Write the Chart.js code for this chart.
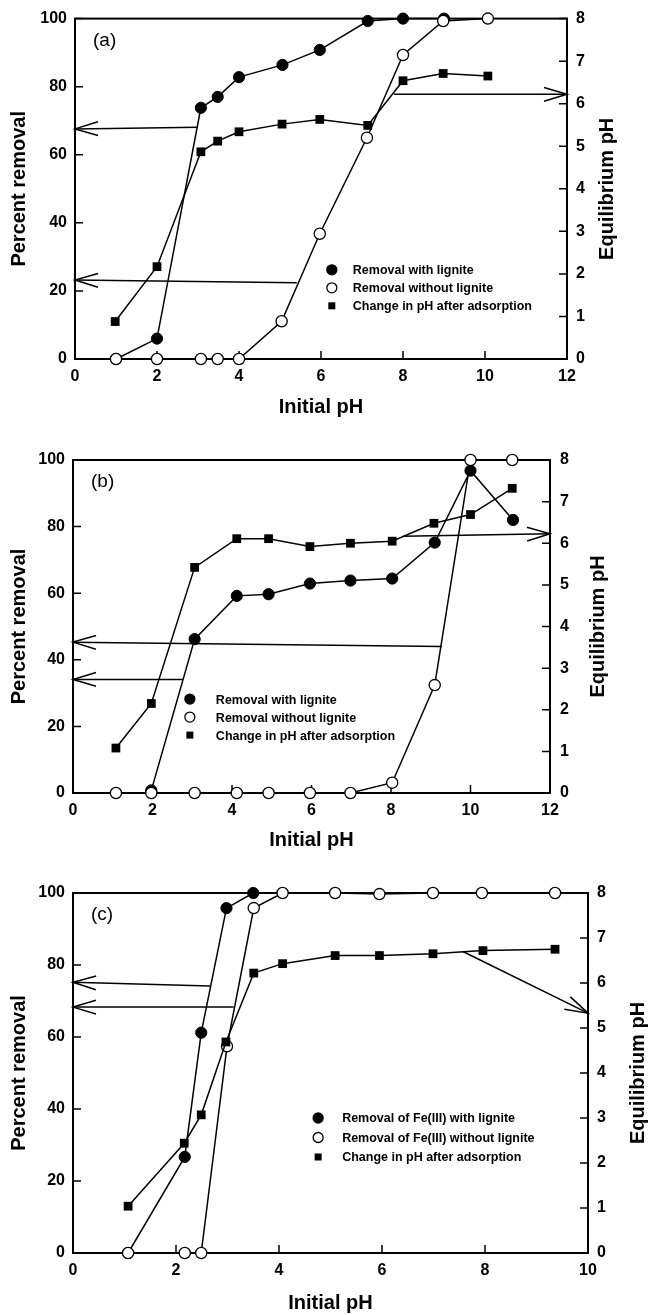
<!DOCTYPE html>
<html>
<head>
<meta charset="utf-8">
<script src="https://cdn.jsdelivr.net/npm/chart.js@4.4.1/dist/chart.umd.min.js"></script>
<style>
  html, body { margin: 0; padding: 0; background: #fff; }
  body { width: 648px; height: 1315px; position: relative; overflow: hidden; }
  .panel { position: absolute; left: 0; width: 648px; }
</style>
</head>
<body>
<div class="panel" style="top:0;height:420px"><canvas id="chartA"></canvas></div>
<div class="panel" style="top:440px;height:420px"><canvas id="chartB"></canvas></div>
<div class="panel" style="top:870px;height:445px"><canvas id="chartC"></canvas></div>
<script>
// ---- panel (a) ----
const phA_with = [1, 2, 3.07, 3.48, 4.0, 5.06, 5.97, 7.14, 8.0, 9.0];
const remA_with = [0, 6, 73.8, 77, 82.8, 86.4, 90.8, 99.3, 100, 100];
const phA_without = [1, 2, 3.07, 3.48, 4.0, 5.04, 5.97, 7.12, 8.0, 8.98, 10.07];
const remA_without = [0, 0, 0, 0, 0, 11.1, 36.8, 65, 89.3, 99.3, 100];
const phA_init = [0.98, 2.0, 3.07, 3.48, 4.0, 5.05, 5.97, 7.14, 8.0, 8.98, 10.07];
const phA_eq = [0.88, 2.17, 4.87, 5.12, 5.34, 5.52, 5.63, 5.49, 6.54, 6.71, 6.65];
const arrowsA = [
  { axis: 'y', x: [3.0, 0], y: [68.1, 67.6] },
  { axis: 'y', x: [5.41, 0], y: [22.4, 23.2] },
  { axis: 'y1', x: [7.78, 12], y: [6.22, 6.22] }
];

// ---- panel (b) ----
const phB_with = [1.97, 3.06, 4.12, 4.92, 5.96, 6.98, 8.03, 9.1, 10.0, 11.07];
const remB_with = [0.8, 46.2, 59.2, 59.7, 62.9, 63.8, 64.4, 75.2, 96.8, 82];
const phB_without = [1.08, 1.97, 3.06, 4.12, 4.92, 5.96, 6.98, 8.03, 9.1, 10.0, 11.05];
const remB_without = [0, 0, 0, 0, 0, 0, 0, 3.1, 32.4, 100, 100];
const phB_init = [1.08, 1.97, 3.06, 4.12, 4.92, 5.96, 6.98, 8.03, 9.08, 10.0, 11.05];
const phB_eq = [1.08, 2.15, 5.42, 6.11, 6.11, 5.92, 6.0, 6.05, 6.48, 6.69, 7.32];
const arrowsB = [
  { axis: 'y', x: [9.28, 0], y: [44.0, 45.3] },
  { axis: 'y', x: [2.76, 0], y: [34.1, 34.1] },
  { axis: 'y1', x: [8.3, 12], y: [6.17, 6.23] }
];

// ---- panel (c) ----
const phC_with = [1.07, 2.17, 2.49, 2.98, 3.5];
const remC_with = [0, 26.7, 61.2, 95.8, 100];
const phC_without = [1.07, 2.17, 2.49, 2.99, 3.51, 4.07, 5.09, 5.95, 6.99, 7.94, 9.36];
const remC_without = [0, 0, 0, 57.4, 95.8, 100, 100, 99.7, 100, 100, 100];
const phC_init = [1.07, 2.16, 2.49, 2.97, 3.51, 4.07, 5.09, 5.95, 6.99, 7.96, 9.36];
const phC_eq = [1.04, 2.44, 3.07, 4.69, 6.22, 6.43, 6.61, 6.61, 6.65, 6.72, 6.75];
const arrowsC = [
  { axis: 'y', x: [2.66, 0], y: [74.2, 75.2] },
  { axis: 'y', x: [3.12, 0], y: [68.3, 68.3] },
  { axis: 'y1', x: [7.57, 10], y: [6.7, 5.33] }
];

const legendAB = ['Removal with lignite', 'Removal without lignite', 'Change in pH after adsorption'];
const legendC = ['Removal of Fe(III) with lignite', 'Removal of Fe(III) without lignite', 'Change in pH after adsorption'];

const FONT = "'Liberation Sans', Arial, sans-serif";
Chart.defaults.font.family = FONT;
Chart.defaults.color = '#000';

function pts(xs, ys) {
  return xs.map((x, i) => ({ x: x, y: ys[i] }));
}

// frame + inward tick marks
const frameTicks = {
  id: 'frameTicks',
  beforeDatasetsDraw(chart) {
    const { ctx, chartArea: a, scales } = chart;
    ctx.save();
    ctx.strokeStyle = '#000';
    ctx.lineWidth = 2;
    ctx.strokeRect(a.left, a.top, a.right - a.left, a.bottom - a.top);
    ctx.lineWidth = 1.5;
    ctx.beginPath();
    scales.x.ticks.forEach(t => {
      const p = scales.x.getPixelForValue(t.value);
      ctx.moveTo(p, a.bottom); ctx.lineTo(p, a.bottom - 8);
    });
    scales.y.ticks.forEach(t => {
      const p = scales.y.getPixelForValue(t.value);
      ctx.moveTo(a.left, p); ctx.lineTo(a.left + 8, p);
    });
    scales.y1.ticks.forEach(t => {
      const p = scales.y1.getPixelForValue(t.value);
      ctx.moveTo(a.right, p); ctx.lineTo(a.right - 8, p);
    });
    ctx.stroke();
    ctx.restore();
  }
};

// open arrowheads on the annotation lines
const arrowHeads = {
  id: 'arrowHeads',
  afterDatasetsDraw(chart) {
    const ctx = chart.ctx;
    chart.data.datasets.forEach((ds, i) => {
      if (!ds.arrow) return;
      const el = chart.getDatasetMeta(i).data;
      const tip = el[el.length - 1], from = el[el.length - 2];
      const ang = Math.atan2(tip.y - from.y, tip.x - from.x);
      const len = 24, spread = 0.29;
      ctx.save();
      ctx.strokeStyle = '#000';
      ctx.lineWidth = 1.5;
      ctx.beginPath();
      ctx.moveTo(tip.x - len * Math.cos(ang - spread), tip.y - len * Math.sin(ang - spread));
      ctx.lineTo(tip.x, tip.y);
      ctx.lineTo(tip.x - len * Math.cos(ang + spread), tip.y - len * Math.sin(ang + spread));
      ctx.stroke();
      ctx.restore();
    });
  }
};

// legend inside plot, panel tag, right axis title (reads bottom to top)
const extras = {
  id: 'extras',
  afterDraw(chart, args, opts) {
    const { ctx, chartArea: a } = chart;
    ctx.save();
    ctx.fillStyle = '#000';
    ctx.strokeStyle = '#000';

    ctx.font = '19px ' + FONT;
    ctx.textBaseline = 'middle';
    ctx.textAlign = 'left';
    ctx.fillText(opts.tag, a.left + 18, a.top + 22);

    const lx = a.left + opts.legendX * (a.right - a.left);
    let ly = a.top + opts.legendY * (a.bottom - a.top);
    ctx.font = 'bold 12.5px ' + FONT;
    chart.data.datasets.forEach(ds => {
      if (ds.arrow) return;
      ctx.lineWidth = 1.3;
      if (ds.pointStyle === 'rect') {
        ctx.fillRect(lx - 3.5, ly - 3.5, 7, 7);
      } else {
        ctx.beginPath();
        ctx.arc(lx, ly, 5, 0, Math.PI * 2);
        ctx.fillStyle = ds.pointBackgroundColor;
        ctx.fill();
        ctx.stroke();
        ctx.fillStyle = '#000';
      }
      ctx.fillText(ds.label, lx + opts.legendGap, ly + 1);
      ly += opts.legendStep;
    });

    ctx.font = 'bold 20px ' + FONT;
    ctx.textAlign = 'center';
    ctx.translate(a.right + opts.rightTitleOffset, (a.top + a.bottom) / 2);
    ctx.rotate(-Math.PI / 2);
    ctx.fillText('Equilibrium pH', 0, 0);
    ctx.restore();
  }
};

function makePanel(id, cfg) {
  const lineBase = { borderColor: '#000', borderWidth: 1.5, showLine: true, fill: false, tension: 0, clip: false };
  const datasets = [
    Object.assign({}, lineBase, {
      label: cfg.labels[0], data: pts(cfg.withX, cfg.withY), yAxisID: 'y', order: 2,
      pointStyle: 'circle', pointRadius: 5.6, pointBackgroundColor: '#000', pointBorderColor: '#000', pointBorderWidth: 1
    }),
    Object.assign({}, lineBase, {
      label: cfg.labels[1], data: pts(cfg.withoutX, cfg.withoutY), yAxisID: 'y', order: 1,
      pointStyle: 'circle', pointRadius: 5.6, pointBackgroundColor: '#fff', pointBorderColor: '#000', pointBorderWidth: 1.3
    }),
    Object.assign({}, lineBase, {
      label: cfg.labels[2], data: pts(cfg.eqX, cfg.eqY), yAxisID: 'y1', order: 0,
      pointStyle: 'rect', pointRadius: 6.2, pointBackgroundColor: '#000', pointBorderColor: '#000', pointBorderWidth: 0
    })
  ];
  cfg.arrows.forEach(ar => {
    datasets.push(Object.assign({}, lineBase, {
      label: '', arrow: true, data: pts(ar.x, ar.y), yAxisID: ar.axis, order: 3, pointRadius: 0
    }));
  });

  const tickFont = { size: 16, weight: 'bold' };
  const titleFont = { size: 20, weight: 'bold' };
  const W = 648;

  new Chart(document.getElementById(id), {
    type: 'scatter',
    data: { datasets: datasets },
    options: {
      responsive: true,
      maintainAspectRatio: false,
      animation: false,
      devicePixelRatio: 1,
      layout: { padding: { top: cfg.top, left: 0, right: 0, bottom: 0 } },
      plugins: {
        legend: { display: false },
        tooltip: { enabled: false },
        extras: {
          tag: cfg.tag, legendX: cfg.legendX, legendY: cfg.legendY,
          legendGap: cfg.legendGap, legendStep: cfg.legendStep, rightTitleOffset: cfg.rightTitleOffset
        }
      },
      scales: {
        x: {
          type: 'linear', position: 'bottom', min: 0, max: cfg.xMax,
          ticks: { stepSize: 2, font: tickFont, color: '#000', padding: 8, maxRotation: 0 },
          grid: { display: false, drawTicks: false },
          border: { display: false },
          title: { display: true, text: 'Initial pH', font: titleFont, color: '#000', padding: { top: 0, bottom: cfg.xTitlePad } },
          afterFit: s => { s.height = cfg.xHeight; }
        },
        y: {
          type: 'linear', position: 'left', min: 0, max: 100,
          ticks: { stepSize: 20, font: tickFont, color: '#000', padding: 8 },
          grid: { display: false, drawTicks: false },
          border: { display: false },
          title: { display: true, text: 'Percent removal', font: titleFont, color: '#000', padding: { top: 7, bottom: 0 } },
          afterFit: s => { s.width = cfg.left; }
        },
        y1: {
          type: 'linear', position: 'right', min: 0, max: 8,
          ticks: { stepSize: 1, font: tickFont, color: '#000', padding: cfg.rightPad },
          grid: { display: false, drawTicks: false },
          border: { display: false },
          afterFit: s => { s.width = W - cfg.right; }
        }
      }
    },
    plugins: [frameTicks, arrowHeads, extras]
  });
}

makePanel('chartA', {
  tag: '(a)', labels: legendAB, xMax: 12,
  withX: phA_with, withY: remA_with, withoutX: phA_without, withoutY: remA_without,
  eqX: phA_init, eqY: phA_eq, arrows: arrowsA,
  top: 16, left: 75, right: 567, xHeight: 61, xTitlePad: 1, rightPad: 9, rightTitleOffset: 40,
  legendX: 0.522, legendY: 0.738, legendGap: 21, legendStep: 18
});
makePanel('chartB', {
  tag: '(b)', labels: legendAB, xMax: 12,
  withX: phB_with, withY: remB_with, withoutX: phB_without, withoutY: remB_without,
  eqX: phB_init, eqY: phB_eq, arrows: arrowsB,
  top: 20, left: 73, right: 550, xHeight: 67, xTitlePad: 8, rightPad: 10, rightTitleOffset: 48,
  legendX: 0.245, legendY: 0.718, legendGap: 26, legendStep: 18
});
makePanel('chartC', {
  tag: '(c)', labels: legendC, xMax: 10,
  withX: phC_with, withY: remC_with, withoutX: phC_without, withoutY: remC_without,
  eqX: phC_init, eqY: phC_eq, arrows: arrowsC,
  top: 23, left: 73, right: 588, xHeight: 62, xTitlePad: 0, rightPad: 9, rightTitleOffset: 50,
  legendX: 0.476, legendY: 0.625, legendGap: 24, legendStep: 19.5
});
</script>
</body>
</html>
